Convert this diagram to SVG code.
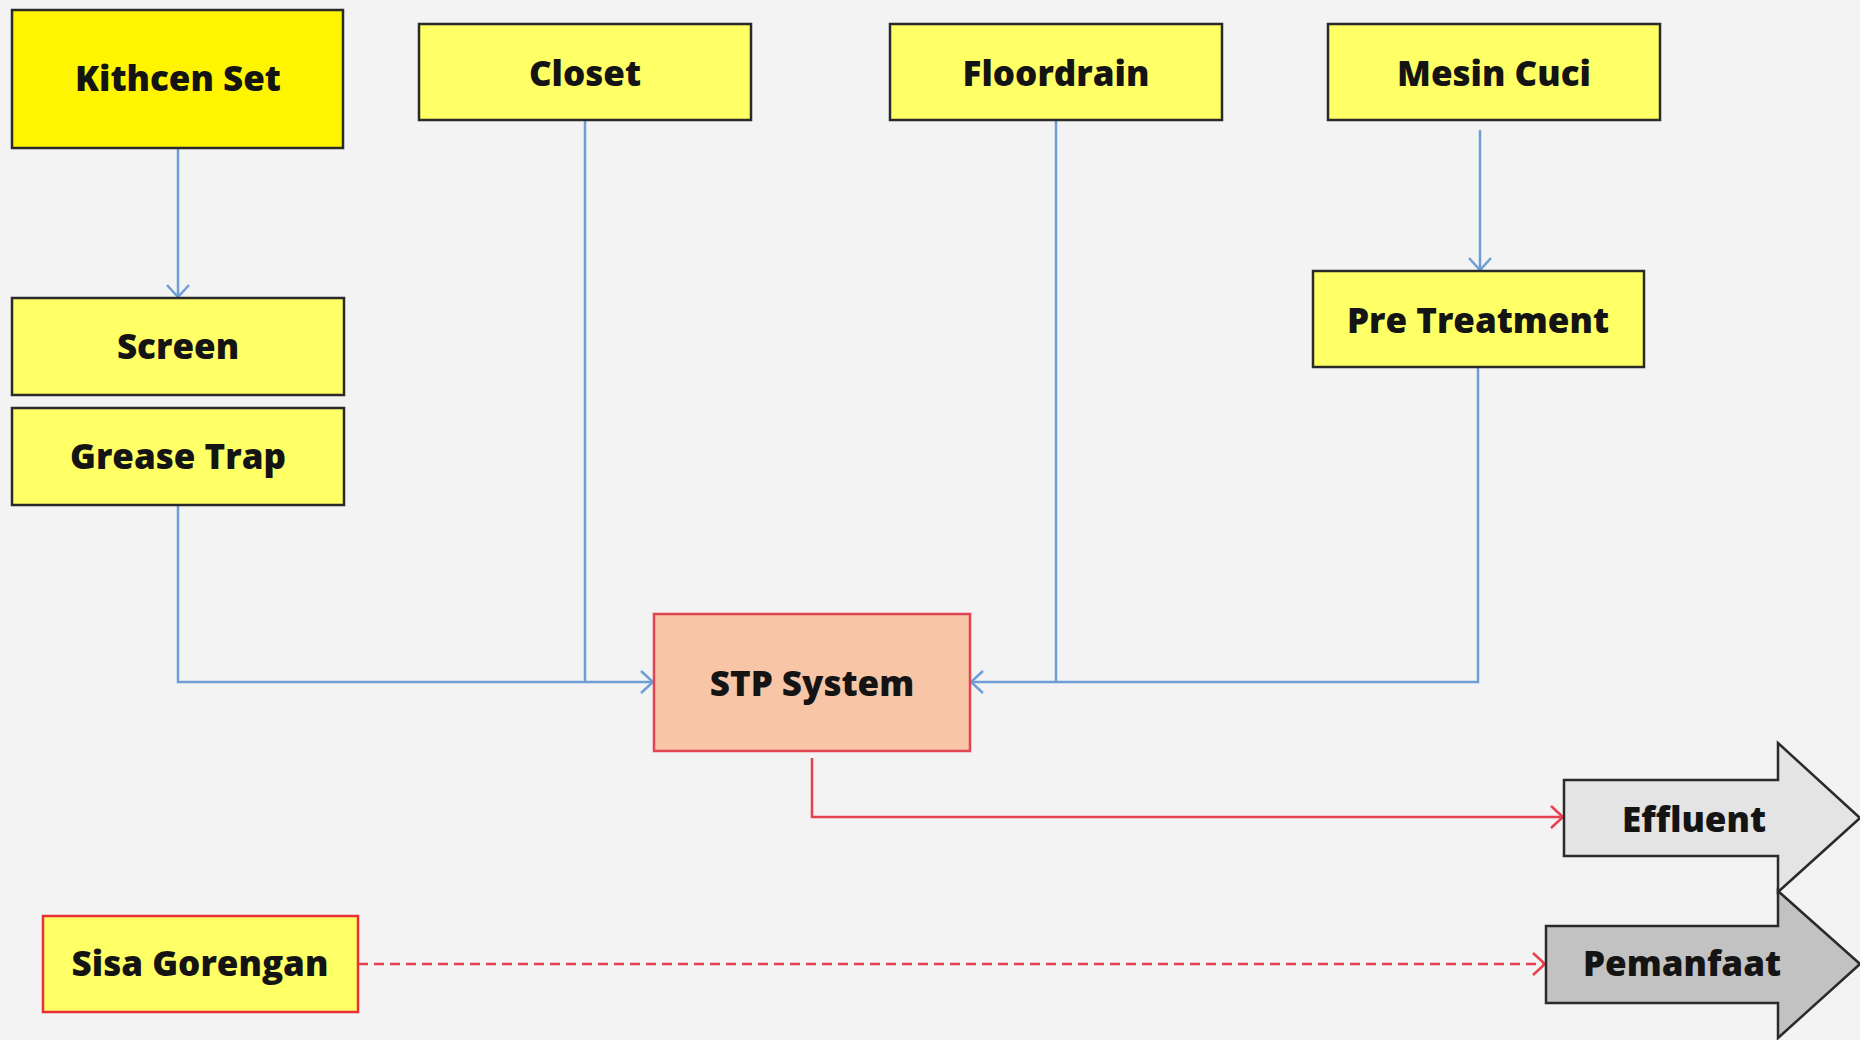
<svg xmlns="http://www.w3.org/2000/svg" width="1860" height="1040" viewBox="0 0 1860 1040">
<defs>
<style>
.box{stroke:#2a2a2a;stroke-width:2.5}
.y{fill:#FFFF66}
.yk{fill:#FFF500}
.t{font-family:"Open Sans",Lato,"Liberation Sans",sans-serif;font-weight:800;font-size:35px;fill:#141414;text-anchor:middle}
.blue{fill:none;stroke:#6F9ED6;stroke-width:2.5}
.red{fill:none;stroke:#E8404F;stroke-width:2.5}
</style>
<marker id="ab" viewBox="0 0 14 24" refX="13" refY="12" markerWidth="14" markerHeight="24" markerUnits="userSpaceOnUse" orient="auto">
<path d="M1,1 L13,12 L1,23" fill="none" stroke="#6F9ED6" stroke-width="2.5"/>
</marker>
<marker id="ar" viewBox="0 0 14 24" refX="13" refY="12" markerWidth="14" markerHeight="24" markerUnits="userSpaceOnUse" orient="auto">
<path d="M1,1 L13,12 L1,23" fill="none" stroke="#E8404F" stroke-width="2.5"/>
</marker>
</defs>
<rect x="0" y="0" width="1860" height="1040" fill="#F3F3F3"/>

<g id="connectors">
<line class="blue" x1="178" y1="148" x2="178" y2="297" marker-end="url(#ab)"/>
<line class="blue" x1="1480" y1="130" x2="1480" y2="270" marker-end="url(#ab)"/>
<polyline class="blue" points="178,505 178,682 653,682" marker-end="url(#ab)"/>
<line class="blue" x1="585" y1="120" x2="585" y2="682"/>
<line class="blue" x1="1056" y1="120" x2="1056" y2="682"/>
<polyline class="blue" points="1478,367 1478,682 971,682" marker-end="url(#ab)"/>
<polyline class="red" points="812,758 812,817 1563,817" marker-end="url(#ar)"/>
<line class="red" x1="358" y1="964" x2="1545" y2="964" stroke-dasharray="10 6" marker-end="url(#ar)"/>
</g>

<g id="kitchen-set">
<rect class="box yk" x="12" y="10" width="331" height="138"/>
<text class="t" x="178" y="91">Kithcen Set</text>
</g>
<g id="closet">
<rect class="box y" x="419" y="24" width="332" height="96"/>
<text class="t" x="585" y="86">Closet</text>
</g>
<g id="floordrain">
<rect class="box y" x="890" y="24" width="332" height="96"/>
<text class="t" x="1056" y="86">Floordrain</text>
</g>
<g id="mesin-cuci">
<rect class="box y" x="1328" y="24" width="332" height="96"/>
<text class="t" x="1494" y="86">Mesin Cuci</text>
</g>
<g id="screen">
<rect class="box y" x="12" y="298" width="332" height="97"/>
<text class="t" x="178" y="359">Screen</text>
</g>
<g id="grease-trap">
<rect class="box y" x="12" y="408" width="332" height="97"/>
<text class="t" x="178" y="469">Grease Trap</text>
</g>
<g id="pre-treatment">
<rect class="box y" x="1313" y="271" width="331" height="96"/>
<text class="t" x="1478" y="333">Pre Treatment</text>
</g>
<g id="stp-system">
<rect x="654" y="614" width="316" height="137" fill="#F8C6A6" stroke="#E04452" stroke-width="2.5"/>
<text class="t" x="812" y="696">STP System</text>
</g>
<g id="sisa-gorengan">
<rect class="y" x="43" y="916" width="315" height="96" stroke="#E8303A" stroke-width="2.5"/>
<text class="t" x="200" y="976">Sisa Gorengan</text>
</g>
<g id="effluent">
<polygon points="1564,780 1778,780 1778,743 1860,818 1778,892 1778,856 1564,856" fill="#E4E4E4" stroke="#2a2a2a" stroke-width="2.5"/>
<text class="t" x="1694" y="832">Effluent</text>
</g>
<g id="pemanfaat">
<polygon points="1546,926 1778,926 1778,891 1860,964 1778,1038 1778,1003 1546,1003" fill="#C2C2C2" stroke="#2a2a2a" stroke-width="2.5"/>
<text class="t" x="1682" y="976">Pemanfaat</text>
</g>
</svg>
